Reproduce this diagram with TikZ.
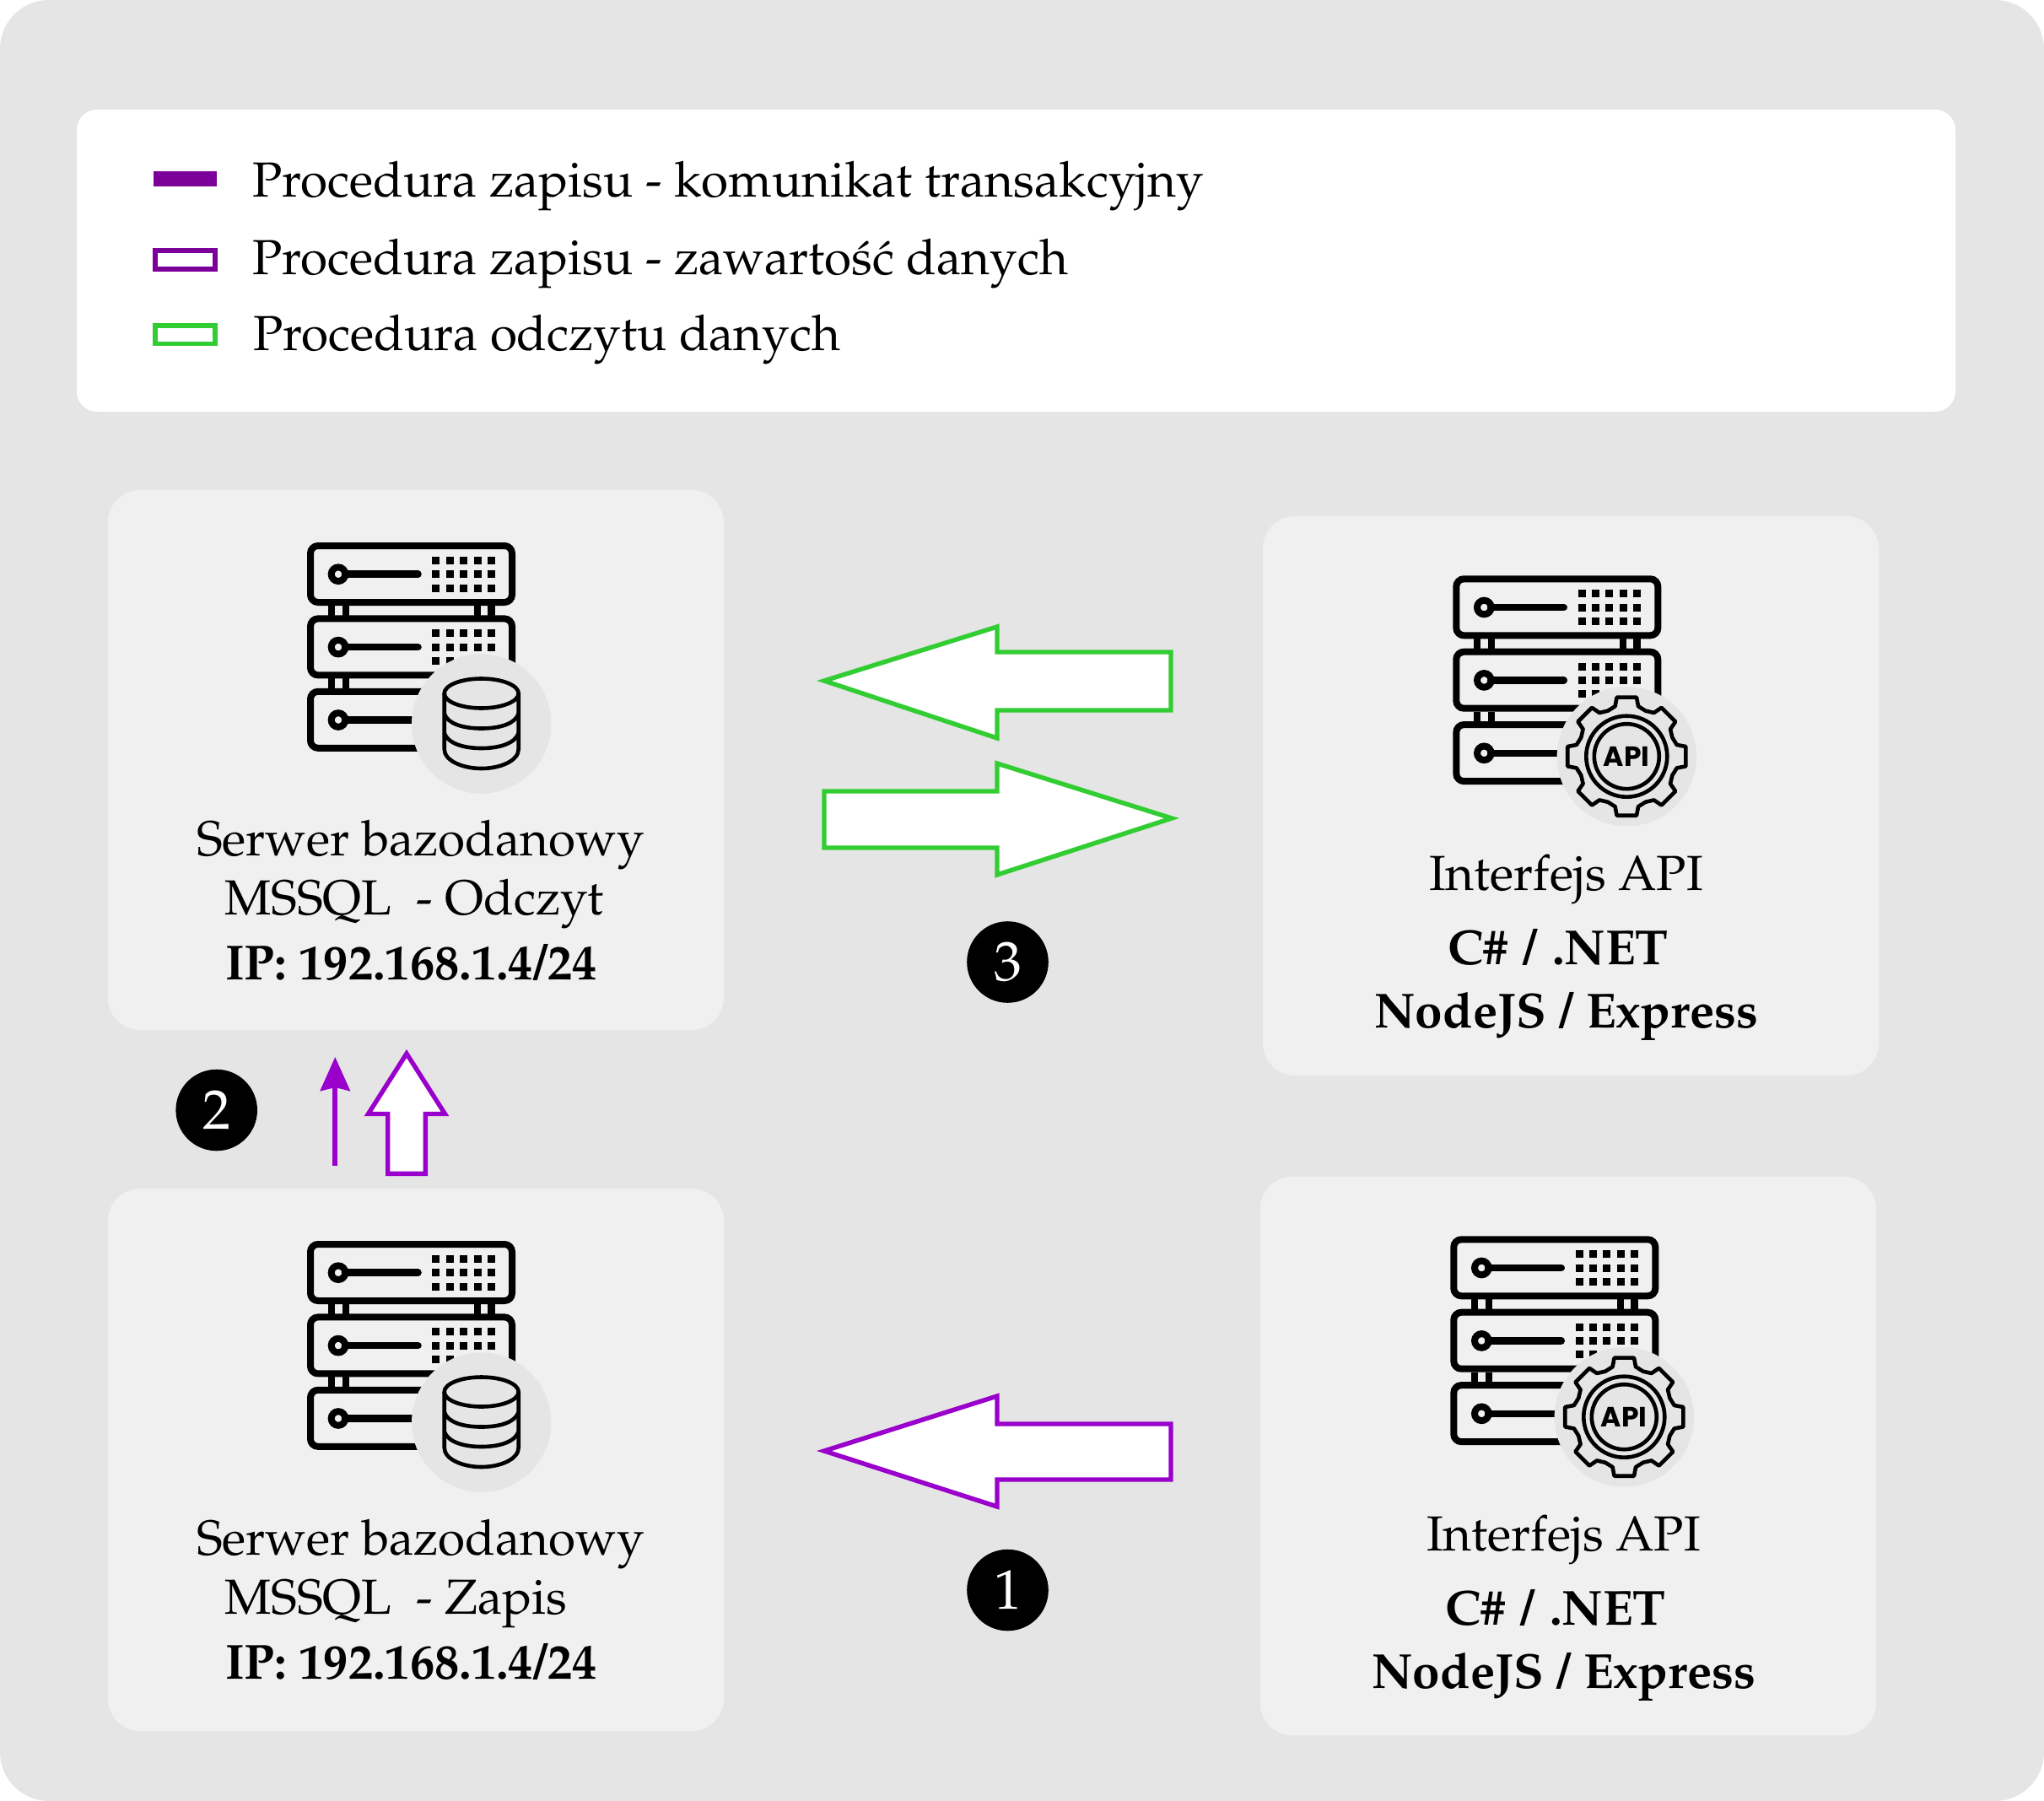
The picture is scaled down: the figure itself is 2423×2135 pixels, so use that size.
\documentclass[tikz,border=0pt]{standalone}
\usepackage[T1]{fontenc}
\usepackage{fontspec}
\usetikzlibrary{arrows.meta}
\newfontfamily\apifont{Poppins}
\newcommand\pal{\fontencoding{T1}\fontfamily{ppl}\fontsize{58.4}{70}\selectfont}
\newcommand\palnum{\fontencoding{T1}\fontfamily{ppl}\fontsize{66}{70}\selectfont}
\definecolor{bgcol}{HTML}{E5E5E5}
\definecolor{cardcol}{HTML}{F0F0F0}
\definecolor{darkpurple}{HTML}{7A0099}
\definecolor{purplearrow}{HTML}{9900CC}
\definecolor{greenarrow}{HTML}{32CD32}
\tikzset{
  card/.style={fill=cardcol,rounded corners=38pt},
  lbl/.style={anchor=base west,inner sep=0pt,font=\pal,text=black},
  blbl/.style={lbl,font=\pal\bfseries},
  num/.style={circle,fill=black,minimum size=96.6pt,inner sep=0pt,text=white,font=\palnum},
  blockarrow/.style={draw=#1,line width=5.4pt,fill=white,miter limit=10},
  rack/.style={draw=black,line width=8pt,rounded corners=9pt},
  ico/.style={draw=black,line width=4.6pt,line join=round},
}
\newcommand\serverbase{%
  \foreach \ry in {0,86.4,172.8}{
    \begin{scope}[yshift=-\ry pt]
      \draw[rack] (4,4) rectangle (243,71);
      \draw[line width=8pt] (37,37.7) circle (8.3);
      \draw[line width=8.5pt,line cap=round] (45,37.7) -- (131.5,37.7);
      \foreach \dx in {0,16.4,32.8,49.2,65.6}{
        \foreach \dy in {17,33.4,49.7}{
          \fill ({148.3+\dx},\dy) rectangle ++(9,9);
        }
      }
    \end{scope}
  }
  \foreach \ry in {75,161.4}{
    \foreach \px/\pw in {25/8,42/8,198/8,214/9}{
      \fill (\px,\ry) rectangle ++(\pw,12);
    }
  }
}
\newcommand\dbicon[2]{%
  \begin{scope}[shift={(#1,#2)}]
    \serverbase
    \fill[bgcol] (206.7,215) circle (82.7);
    \begin{scope}[shift={(206.7,215)}]
      \draw[ico] (0,-36) ellipse (44 and 17.5);
      \draw[ico] (-44,-36) -- (-44,30) .. controls (-44,44) and (-22,53) .. (0,53) .. controls (22,53) and (44,44) .. (44,30) -- (44,-36);
      \draw[ico] (-44,-12) .. controls (-40,0) and (-22,5.5) .. (0,5.5) .. controls (22,5.5) and (40,0) .. (44,-12);
      \draw[ico] (-44,11) .. controls (-40,23) and (-22,29) .. (0,29) .. controls (22,29) and (40,23) .. (44,11);
    \end{scope}
  \end{scope}
}
\newcommand\apiicon[3]{%
  \begin{scope}[shift={(#1,#2)}]
    \serverbase
    \fill[bgcol] (206,214.4) circle (82.7);
    \begin{scope}[shift={(206,214.4)}]
      \draw[ico] (13:61)
        \foreach \a in {0,45,...,315}{
          -- ({\a+13}:61) -- ({\a+22.5}:58.5) -- ({\a+32}:61) -- ({\a+35.5}:71) -- ({\a+54.5}:71) -- ({\a+58}:61)
        } -- cycle;
      \draw[ico] (0,0) circle (48);
      \draw[ico] (0,0) circle (38.5);
      \node[#3,inner sep=0pt,font=\apifont\bfseries\fontsize{33}{33}\selectfont] at (0,0) {API};
    \end{scope}
  \end{scope}
}
\begin{document}
\begin{tikzpicture}[x=1pt,y=-1pt]
\useasboundingbox (0,0) rectangle (2423,2135);
\fill[bgcol,rounded corners=58pt] (0,0) rectangle (2423,2135);
\fill[white,rounded corners=24pt] (91,130) rectangle (2318,488);
% legend
\fill[darkpurple] (181.7,203.3) rectangle (256.7,220.7);
\draw[darkpurple,line width=5.5pt,fill=white] (183.8,297) rectangle (255,319);
\draw[greenarrow,line width=5.5pt,fill=white] (183.8,386) rectangle (255,407.5);
\node[lbl] (leg1) at (299,234) {Procedura zapisu - komunikat transakcyjny};
\node[lbl] (leg2) at (299,326) {Procedura zapisu - zawarto\'s\'c danych};
\node[lbl] (leg3) at (300,415) {Procedura odczytu danych};
% cards
\fill[card] (128,581) rectangle (858,1221);
\fill[card] (128,1409) rectangle (858,2052);
\fill[card] (1497,612) rectangle (2227,1275);
\fill[card] (1494,1395) rectangle (2224,2057);
% icons
\dbicon{364}{643}
\dbicon{364}{1471}
\apiicon{1722.3}{682.3}{name=apitop}
\apiicon{1719.3}{1465.3}{name=apibot}
% card texts
\node[lbl] (t1a) at (233,1014) {Serwer bazodanowy};
\node[lbl] (t1b) at (266,1084) {MSSQL\ \ - Odczyt};
\node[blbl] (t1c) at (267,1161) {IP: 192.168.1.4/24};
\node[lbl] (t2a) at (233,1843) {Serwer bazodanowy};
\node[lbl] (t2b) at (266,1913) {MSSQL\ \ - Zapis};
\node[blbl] (t2c) at (267,1990) {IP: 192.168.1.4/24};
\node[lbl] (t3a) at (1694,1055) {Interfejs API};
\node[blbl] (t3b) at (1716,1143) {C\#\kern3pt\ /\ \kern3pt.NET};
\node[blbl] (t3c) at (1629,1218) {NodeJS / Express};
\node[lbl] (t4a) at (1691,1838) {Interfejs API};
\node[blbl] (t4b) at (1713,1926) {C\#\kern3pt\ /\ \kern3pt.NET};
\node[blbl] (t4c) at (1626,2001) {NodeJS / Express};
% block arrows
\draw[blockarrow=greenarrow] (977,807) -- (1182,743) -- (1182,773) -- (1388,773) -- (1388,842) -- (1182,842) -- (1182,875) -- cycle;
\draw[blockarrow=greenarrow] (1389,970) -- (1182,905) -- (1182,938) -- (977,938) -- (977,1005) -- (1182,1005) -- (1182,1037) -- cycle;
\draw[blockarrow=purplearrow] (977,1720) -- (1182,1655) -- (1182,1688) -- (1388,1688) -- (1388,1754) -- (1182,1754) -- (1182,1786) -- cycle;
\draw[blockarrow=purplearrow] (482,1249) -- (527.5,1320.5) -- (504.3,1320.5) -- (504.3,1391.4) -- (459.7,1391.4) -- (459.7,1320.5) -- (436.5,1320.5) -- cycle;
% thin arrow
\coordinate (thinS) at (397.3,1381.7);
\coordinate (thinE) at (397.3,1253);
\draw[purplearrow,line width=6pt,-{Stealth[length=40pt,width=35pt,inset=4pt]}] (thinS) -- (thinE);
% numbers
\node[num] (n2) at (256.7,1316) {2};
\node[num] (n3) at (1194.5,1140.5) {3};
\node[num] (n1) at (1194.5,1885) {1};
\end{tikzpicture}
\end{document}
